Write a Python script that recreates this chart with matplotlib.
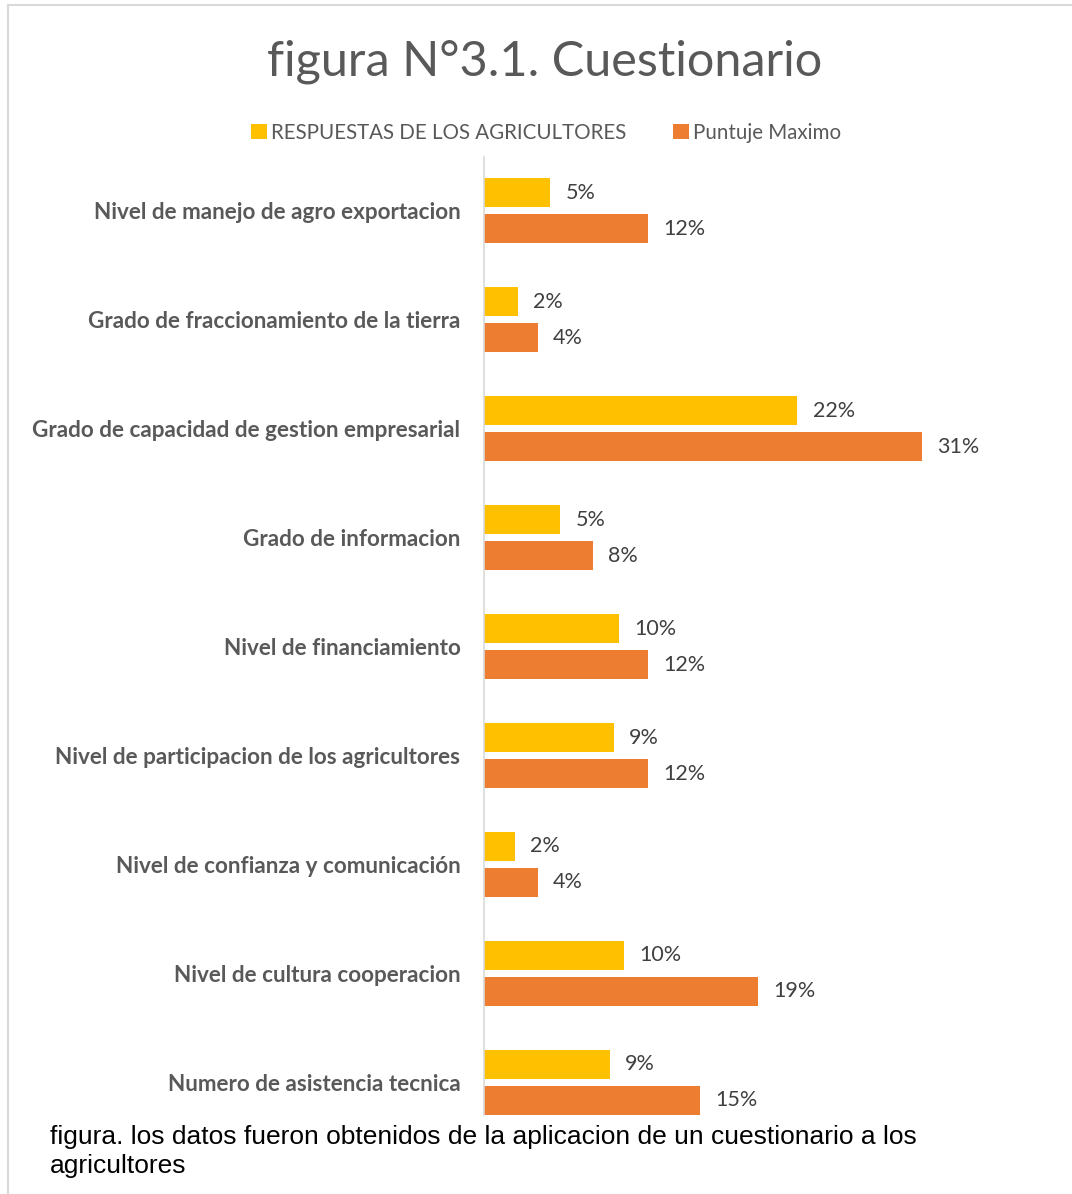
import matplotlib.pyplot as plt
from matplotlib.lines import Line2D

categorias = [
    "Nivel de manejo de agro exportacion",
    "Grado de fraccionamiento de la tierra",
    "Grado de capacidad de gestion empresarial",
    "Grado de informacion",
    "Nivel de financiamiento",
    "Nivel de participacion de los agricultores",
    "Nivel de confianza y comunicación",
    "Nivel de cultura cooperacion",
    "Numero de asistencia tecnica",
]
respuestas = [0.047, 0.024, 0.222, 0.054, 0.096, 0.092, 0.022, 0.099, 0.089]
puntaje_max = [0.116, 0.038, 0.310, 0.077, 0.116, 0.116, 0.038, 0.194, 0.153]

AMARILLO = "#FFC000"
NARANJA = "#ED7D31"
GRIS = "#595959"

fig = plt.figure(figsize=(10.72, 11.94), dpi=100)
W, H = 1072, 1194

# area del grafico en pixeles
x0, x1 = 484, 978
y_top, y_bot = 157, 1115
ax = fig.add_axes([x0 / W, 1 - y_bot / H, (x1 - x0) / W, (y_bot - y_top) / H])

pos = list(range(len(categorias)))
alto = 0.266
off = 0.165
ax.barh([p - off for p in pos], respuestas, height=alto, color=AMARILLO, label="RESPUESTAS DE LOS AGRICULTORES")
ax.barh([p + off for p in pos], puntaje_max, height=alto, color=NARANJA, label="Puntuje Maximo")

for p, v in zip(pos, respuestas):
    ax.annotate(f"{round(v * 100)}%", (v, p - off), xytext=(11, 0), textcoords="offset points",
                va="center", ha="left", fontsize=15.5, color="#404040", family="Lato")
for p, v in zip(pos, puntaje_max):
    ax.annotate(f"{round(v * 100)}%", (v, p + off), xytext=(11, 0), textcoords="offset points",
                va="center", ha="left", fontsize=15.5, color="#404040", family="Lato")

ax.set_xlim(0, 0.35)
ax.set_ylim(8.3, -0.495)
ax.set_yticks(pos)
ax.set_yticklabels(categorias, fontsize=16.2, fontweight="bold", color=GRIS, family="Lato")
ax.tick_params(axis="y", length=0, pad=17)
ax.set_xticks([])
for lado in ["top", "right", "bottom"]:
    ax.spines[lado].set_visible(False)
ax.spines["left"].set_color("#D9D9D9")
ax.spines["left"].set_linewidth(1.2)

fig.text(545 / W, 1 - 62 / H, "figura N°3.1. Cuestionario", ha="center", va="center",
         fontsize=35, color=GRIS, family="Lato")

fig.legend(loc="center", bbox_to_anchor=(546 / W, 1 - 133 / H), ncol=2, frameon=False,
           prop={"family": "Lato", "size": 14.8}, labelcolor=GRIS, handlelength=0.75,
           handleheight=0.75, handletextpad=0.2, columnspacing=2.3)

fig.text(50 / W, 1 - 1137 / H, "figura. los datos fueron obtenidos de la aplicacion de un cuestionario a los",
         ha="left", va="center", fontsize=19, color="black", family="Liberation Sans")
fig.text(50 / W, 1 - 1166 / H, "agricultores", ha="left", va="center", fontsize=19,
         color="black", family="Liberation Sans")

# borde del recuadro
fig.add_artist(Line2D([8 / W, 1], [1 - 5 / H, 1 - 5 / H], color="#D9D9D9", lw=1.5))
fig.add_artist(Line2D([8 / W, 8 / W], [0, 1 - 5 / H], color="#D9D9D9", lw=1.5))

fig.savefig("out.png", dpi=100)
